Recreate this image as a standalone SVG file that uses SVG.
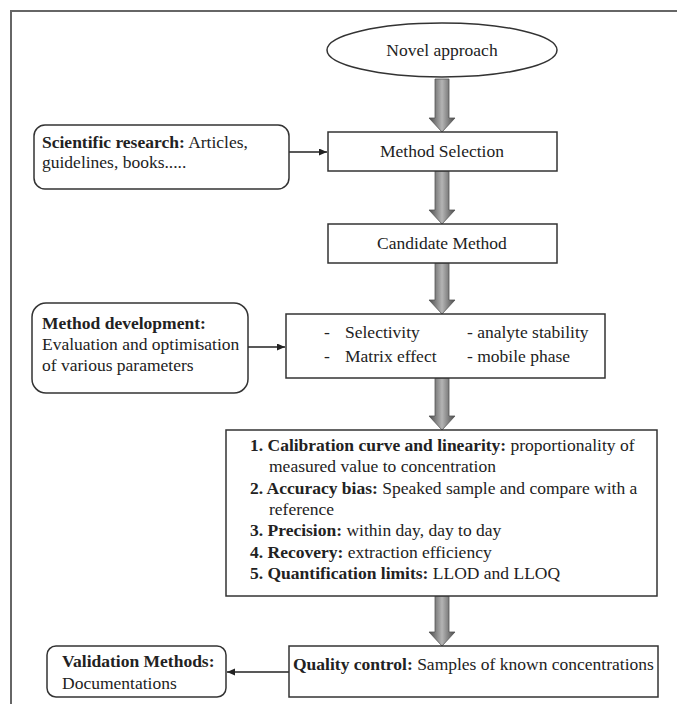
<svg xmlns="http://www.w3.org/2000/svg" width="677" height="704" viewBox="0 0 677 704">
<defs>
<style>
text{font-family:"Liberation Serif","Times New Roman",serif;font-size:17.5px;fill:#222}
.b{font-weight:bold}
.box{fill:#fff;stroke:#333;stroke-width:1.5}
.thin{stroke:#222;stroke-width:1.5;fill:none}
.blk{fill:url(#g);stroke:#555;stroke-width:0.8}
</style>
<linearGradient id="g" x1="0" y1="0" x2="1" y2="0">
<stop offset="0" stop-color="#4a4a4a"/>
<stop offset="0.5" stop-color="#b4b4b4"/>
<stop offset="1" stop-color="#4a4a4a"/>
</linearGradient>
<marker id="ah" markerUnits="userSpaceOnUse" markerWidth="9" markerHeight="8" refX="8" refY="3.5" orient="auto">
<path d="M0,0 L8,3.5 L0,7 z" fill="#222"/>
</marker>
</defs>
<rect width="677" height="704" fill="#fff"/>
<path d="M11,704 V11 H677" fill="none" stroke="#666" stroke-width="2"/>

<g id="connectors">
<path class="blk" d="M435,79 H449 V118 H455 L442,132 L429,118 H435 Z"/>
<path class="blk" d="M435,171 H449 V210 H455 L442,224 L429,210 H435 Z"/>
<path class="blk" d="M435,263 H449 V300 H455 L442,314 L429,300 H435 Z"/>
<path class="blk" d="M435,378 H449 V416 H455 L442,430 L429,416 H435 Z"/>
<path class="blk" d="M435,596 H449 V632 H455 L442,646 L429,632 H435 Z"/>
<line class="thin" x1="289" y1="152" x2="327" y2="152" marker-end="url(#ah)"/>
<line class="thin" x1="248" y1="347" x2="285" y2="347" marker-end="url(#ah)"/>
<line class="thin" x1="289" y1="672" x2="227" y2="672" marker-end="url(#ah)"/>
</g>

<g id="novel">
<ellipse class="box" cx="442" cy="50" rx="115" ry="27"/>
<text x="442" y="56" text-anchor="middle">Novel approach</text>
</g>

<g id="scientific">
<rect class="box" x="34" y="125" width="255" height="64" rx="11"/>
<text x="42" y="148"><tspan class="b">Scientific research:</tspan> Articles,</text>
<text x="42" y="168">guidelines, books.....</text>
</g>

<g id="selection">
<rect class="box" x="328" y="132" width="229" height="39"/>
<text x="442" y="157" text-anchor="middle">Method Selection</text>
</g>

<g id="candidate">
<rect class="box" x="328" y="224" width="229" height="39"/>
<text x="442" y="249" text-anchor="middle">Candidate Method</text>
</g>

<g id="development">
<rect class="box" x="32" y="303" width="216" height="90" rx="14"/>
<text x="42" y="329" class="b">Method development:</text>
<text x="42" y="350">Evaluation and optimisation</text>
<text x="42" y="371">of various parameters</text>
</g>

<g id="parameters">
<rect class="box" x="286" y="314" width="319" height="64"/>
<text x="324" y="338">-</text>
<text x="345" y="338">Selectivity</text>
<text x="467" y="338">- analyte stability</text>
<text x="324" y="362">-</text>
<text x="345" y="362">Matrix effect</text>
<text x="467" y="362">- mobile phase</text>
</g>

<g id="validation-steps">
<rect class="box" x="226" y="430" width="431" height="166"/>
<text x="250" y="451"><tspan class="b">1. Calibration curve and linearity:</tspan> proportionality of</text>
<text x="269" y="472">measured value to concentration</text>
<text x="250" y="494"><tspan class="b">2. Accuracy bias:</tspan> Speaked sample and compare with a</text>
<text x="269" y="515">reference</text>
<text x="250" y="536"><tspan class="b">3. Precision:</tspan> within day, day to day</text>
<text x="250" y="558"><tspan class="b">4. Recovery:</tspan> extraction efficiency</text>
<text x="250" y="579"><tspan class="b">5. Quantification limits:</tspan> LLOD and LLOQ</text>
</g>

<g id="quality">
<rect class="box" x="289" y="646" width="369" height="51"/>
<text x="293" y="670"><tspan class="b">Quality control:</tspan> Samples of known concentrations</text>
</g>

<g id="documentation">
<rect class="box" x="47" y="646" width="179" height="51" rx="9"/>
<text x="62" y="667" class="b">Validation Methods:</text>
<text x="62" y="689">Documentations</text>
</g>
</svg>
